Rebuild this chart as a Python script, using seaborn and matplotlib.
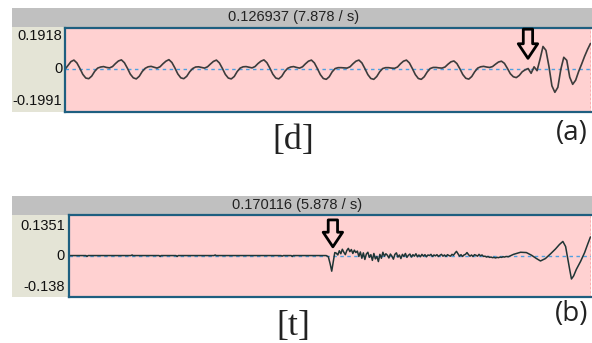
import numpy as np
import pandas as pd
import matplotlib
matplotlib.use("Agg")
import matplotlib.pyplot as plt
import seaborn as sns

sns.set_theme(style="white")
plt.rcParams["font.family"] = ["Liberation Sans", "DejaVu Sans"]

# ---------------- data ----------------
# (a) [d]: window length in seconds, samples evenly spread over it
dur_a = 0.126937
wave_a = [
    -0.002, 0.016, 0.034,
    0.041, 0.028, 0.003, -0.025, -0.042, -0.045, -0.033, -0.011, 0.004, 0.009, 0.011, 0.007, 0.005, 0.011, 0.025, 0.037,
    0.042, 0.029, 0.004, -0.024, -0.041, -0.046, -0.034, -0.012, 0.003, 0.010, 0.012, 0.008, 0.004, 0.010, 0.024, 0.036,
    0.043, 0.030, 0.005, -0.023, -0.041, -0.045, -0.034, -0.013, 0.002, 0.009, 0.010, 0.007, 0.004, 0.010, 0.023, 0.035,
    0.041, 0.028, 0.003, -0.025, -0.042, -0.046, -0.035, -0.012, 0.004, 0.010, 0.011, 0.008, 0.005, 0.011, 0.025, 0.036,
    0.042, 0.029, 0.004, -0.024, -0.042, -0.046, -0.034, -0.012, 0.003, 0.009, 0.011, 0.007, 0.004, 0.010, 0.024, 0.036,
    0.041, 0.028, 0.002, -0.026, -0.044, -0.048, -0.036, -0.013, 0.002, 0.006, 0.006, 0.005, 0.004, 0.010, 0.024, 0.036,
    0.041, 0.028, 0.002, -0.026, -0.044, -0.048, -0.035, -0.013, 0.002, 0.006, 0.006, 0.004, 0.003, 0.009, 0.024, 0.036,
    0.041, 0.028, 0.002, -0.026, -0.044, -0.048, -0.036, -0.014, 0.002, 0.007, 0.007, 0.005, 0.004, 0.009, 0.022, 0.033,
    0.037, 0.025, 0.001, -0.026, -0.043, -0.047, -0.035, -0.013, 0.004, 0.010, 0.012, 0.009, 0.007, 0.011, 0.022, 0.032,
    0.036, 0.026, 0.003, -0.022, -0.036, -0.040, -0.030, -0.013, -0.004, 0.002, -0.020, 0.010, -0.008,
    0.045, 0.104, 0.086, 0.012, -0.078, -0.108, -0.085, -0.002, 0.054, 0.040, -0.038, -0.071,
    -0.052, -0.012, 0.022, 0.058, 0.090, 0.118,
]
ylim_a = (-0.1991, 0.1918)

# (b) [t]: times in ms
dur_b_ms = 170.116
closure_t_ms = [0.0, 5.55, 5.88, 6.2, 20.2, 20.6, 20.9, 29.4, 29.7, 30.0, 34.9, 35.3, 35.6,
                47.3, 47.7, 48.0, 69.2, 69.5, 69.9, 72.5, 72.8, 73.1,
                83.9, 84.6, 85.2, 85.7, 86.2, 86.7]
closure_v = [0.0, 0.0, -0.003, 0.0, 0.0, 0.002, 0.0, 0.0, -0.003, 0.0, 0.0, -0.003, 0.0,
             0.0, 0.002, 0.0, 0.0, -0.002, 0.0, 0.0, -0.003, 0.0,
             0.0, -0.004, -0.028, -0.052, -0.022, 0.010]
fric_start_ms = 87.2
fric_step_ms = 0.49
fric_v = [
    0.008, 0.002, 0.016, 0.006, 0.021, 0.011, 0.003, 0.017, 0.024, 0.013, 0.020, 0.007, 0.018, 0.010, 0.015,
    -0.003, 0.012, -0.009, 0.009, -0.013, 0.005, 0.011, -0.006, 0.003, -0.016, 0.007, -0.011, -0.003, -0.020, 0.004, -0.009,
    0.011, -0.002, 0.006, 0.001, -0.008, 0.005, -0.002, -0.012, 0.004, 0.009, -0.005, 0.002, -0.010, 0.004,
    -0.003, 0.007, -0.006, 0.001, 0.005, -0.005, 0.003, -0.002, 0.006, -0.004, 0.002, -0.004, 0.004,
    -0.002, 0.003, -0.004, 0.002, 0.000, 0.004, -0.003, 0.002, -0.001, 0.003, -0.003, 0.001, 0.004, -0.002,
    0.002, -0.003, 0.003, 0.000, -0.002, 0.004,
    0.001, 0.008, 0.014, 0.006, -0.002, 0.003, -0.003, 0.002, 0.004, 0.010, 0.003, -0.002, 0.002, -0.003,
    0.003, 0.001, -0.002, 0.004, -0.001, 0.002,
    -0.003, -0.002, -0.005, -0.003, -0.006, -0.005, -0.007, -0.006, -0.008, -0.006, -0.007, -0.005,
    -0.006, -0.004, -0.005, -0.003,
]
vowel_t_ms = [143.3, 145.0, 147.3, 149.2, 150.9, 152.5, 153.8, 155.4, 157.1, 158.7, 160.0, 161.1,
              162.0, 162.6, 163.3, 163.9, 164.6, 165.5, 166.9, 168.2, 169.2, 170.1]
vowel_v = [-0.004, 0.004, 0.011, 0.010, 0.001, -0.010, -0.018, -0.010, 0.006, 0.022, 0.037, 0.047,
           0.030, -0.005, -0.045, -0.078, -0.068, -0.046, -0.019, 0.010, 0.038, 0.062]
ylim_b = (-0.138, 0.1351)

headers = ["0.126937 (7.878 / s)", "0.170116 (5.878 / s)"]
sounds = ["[d]", "[t]"]
panel_tags = ["(a)", "(b)"]

# ---------------- figure ----------------
W, H = 592, 343
fig = plt.figure(figsize=(W / 100, H / 100), dpi=100)
fig.patch.set_facecolor("white")


def rect(x0, y0, x1, y1):
    return [x0 / W, 1 - y1 / H, (x1 - x0) / W, (y1 - y0) / H]


PINK = "#ffd1d1"
BEIGE = "#e4e4d6"
GREY = "#c0c0c0"
FRAME = "#1e5f80"


def chrome(hdr_box, lab_box, text, tx):
    hx = fig.add_axes(rect(*hdr_box))
    hx.set_facecolor(GREY)
    hx.set_xticks([]); hx.set_yticks([])
    for s in hx.spines.values():
        s.set_visible(False)
    hx.text((tx - hdr_box[0]) / (hdr_box[2] - hdr_box[0]), 0.5, text, ha="center", va="center",
            fontsize=10.5, color="#222222", transform=hx.transAxes)
    lx = fig.add_axes(rect(*lab_box))
    lx.set_facecolor(BEIGE)
    lx.set_xticks([]); lx.set_yticks([])
    for s in lx.spines.values():
        s.set_visible(False)


def wave_axes(box, ylim, xmax):
    ax = fig.add_axes(rect(*box))
    ax.set_facecolor(PINK)
    ax.set_xlim(0, xmax)
    ax.set_ylim(*ylim)
    ax.set_xticks([]); ax.set_yticks([])
    for k in ("top", "bottom", "left"):
        ax.spines[k].set_color(FRAME)
        ax.spines[k].set_linewidth(1.6)
    ax.spines["right"].set_visible(False)
    ax.axhline(0, color="#4f9fe0", lw=1.0, ls=(0, (2.5, 2.5)), zorder=1)
    ax.axvline(xmax, color="#e02020", lw=1.0, ls=(0, (1.5, 1.5)), zorder=3)
    return ax


def ylabels(ax, top, bottom, xf, yt, yb):
    kw = dict(ha="right", va="center", fontsize=10.5, color="#111111", clip_on=False)
    ax.text(xf, yt, top, transform=ax.transAxes, **kw)
    ax.text(xf, 0, "0", transform=ax.get_yaxis_transform(), **kw)
    ax.text(xf, yb, bottom, transform=ax.transAxes, **kw)


def hollow_arrow(ax, x, y0, y1):
    ax.annotate("", xy=(x, y1), xytext=(x, y0), xycoords="axes fraction", textcoords="axes fraction",
                arrowprops=dict(arrowstyle="simple,head_length=0.75,head_width=1.0,tail_width=0.48",
                                fc="none", ec="black", lw=2.0, mutation_scale=14,
                                shrinkA=0, shrinkB=0), zorder=5)


# panel (a)
chrome((12, 8, 592, 27), (12, 27, 65, 112), headers[0], 294)
ax_a = wave_axes((65, 27.5, 590.5, 112), ylim_a, dur_a)
df_a = pd.DataFrame({"t": np.linspace(0, dur_a, len(wave_a)), "v": wave_a})
sns.lineplot(data=df_a, x="t", y="v", ax=ax_a, color="#3c3c3c", lw=1.2, estimator=None, sort=False, zorder=2)
ax_a.set_xlabel(""); ax_a.set_ylabel("")
ylabels(ax_a, "0.1918", "-0.1991", -0.005, 0.905, 0.13)
hollow_arrow(ax_a, 0.881, 0.98, 0.635)

# panel (b)
chrome((12, 196, 592, 214.5), (12, 214.5, 69, 297), headers[1], 297)
ax_b = wave_axes((69, 215, 590.5, 297), ylim_b, dur_b_ms)
fric_t = fric_start_ms + fric_step_ms * np.arange(len(fric_v))
df_b = pd.DataFrame({"t": np.concatenate([closure_t_ms, fric_t, vowel_t_ms]),
                     "v": np.concatenate([closure_v, fric_v, vowel_v])})
sns.lineplot(data=df_b, x="t", y="v", ax=ax_b, color="#1f3535", lw=1.1, estimator=None, sort=False, zorder=2)
ax_b.set_xlabel(""); ax_b.set_ylabel("")
ylabels(ax_b, "0.1351", "-0.138", -0.008, 0.866, 0.122)
hollow_arrow(ax_b, 0.506, 0.94, 0.612)

# phone labels and panel tags
fig.text(293 / W, 1 - 141 / H, sounds[0], ha="center", va="center", fontsize=26,
         family=["Liberation Serif", "DejaVu Serif"], color="#222222")
fig.text(293 / W, 1 - 326 / H, sounds[1], ha="center", va="center", fontsize=26,
         family=["Liberation Serif", "DejaVu Serif"], color="#222222")
fig.text(572 / W, 1 - 133 / H, panel_tags[0], ha="center", va="center", fontsize=20,
         family=["Open Sans", "DejaVu Sans"], color="#222222")
fig.text(572 / W, 1 - 314 / H, panel_tags[1], ha="center", va="center", fontsize=20,
         family=["Open Sans", "DejaVu Sans"], color="#222222")

fig.savefig("out.png", dpi=100, facecolor="white")
